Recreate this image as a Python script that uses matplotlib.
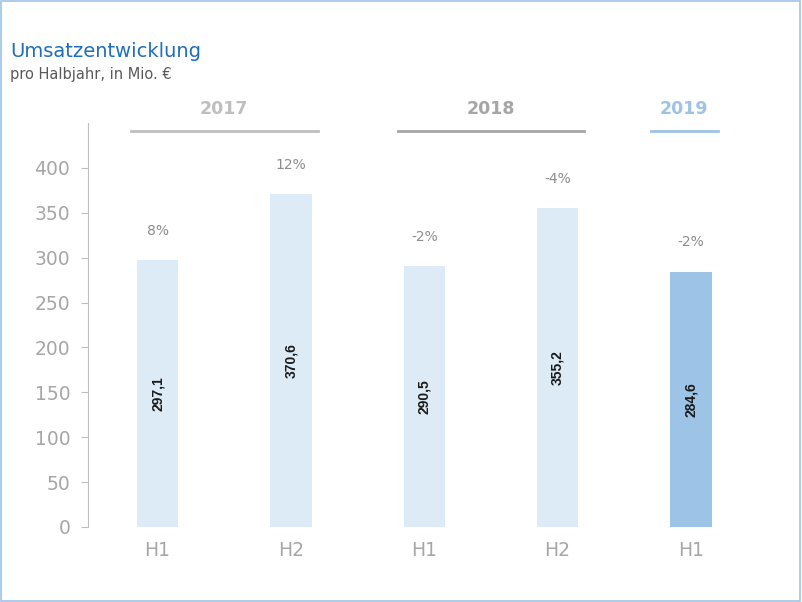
import matplotlib.pyplot as plt
from matplotlib.patches import Rectangle

halves = ["H1", "H2", "H1", "H2", "H1"]
umsatz = [297.1, 370.6, 290.5, 355.2, 284.6]
wachstum = ["8%", "12%", "-2%", "-4%", "-2%"]
jahre = ["2017", "2018", "2019"]
jahr_spans = [(-0.2, 1.2), (1.8, 3.2), (3.7, 4.2)]
jahr_farben = ["#BFBFBF", "#A6A6A6", "#9DC3E6"]
bar_farben = ["#DDEBF7", "#DDEBF7", "#DDEBF7", "#DDEBF7", "#9DC3E6"]

plt.rcParams["font.family"] = "DejaVu Sans"
fig = plt.figure(figsize=(8.02, 6.02), dpi=100)
fig.patches.append(Rectangle((0.001, 0.001), 0.997, 0.997, transform=fig.transFigure,
                             fill=False, edgecolor="#9DC3E6", lw=1.2))
fig.text(0.013, 0.905, "Umsatzentwicklung", color="#1F6FB8", fontsize=14)
fig.text(0.013, 0.868, "pro Halbjahr, in Mio. €", color="#595959", fontsize=10.5)

ax = fig.add_axes([0.11, 0.1246, 0.838, 0.671])
x = range(len(umsatz))
ax.bar(x, umsatz, width=0.31, color=bar_farben)
for i, v in enumerate(umsatz):
    ax.text(i, v / 2, f"{v:.1f}".replace(".", ","), rotation=90, ha="center",
            va="center", fontsize=10, fontweight="bold", color="#1a1a1a",
            family="Liberation Sans")
    ax.text(i, v + 33, wachstum[i], ha="center", va="center", fontsize=10, color="#8C8C8C")

for j, (a, b) in enumerate(jahr_spans):
    ax.plot([a, b], [441, 441], color=jahr_farben[j], lw=2, clip_on=False)
    ax.text((a + b) / 2, 466, jahre[j], ha="center", va="center", fontsize=12.5,
            fontweight="bold", color=jahr_farben[j])

ax.set_xlim(-0.52, 4.52)
ax.set_ylim(0, 450)
ax.set_yticks(range(0, 401, 50))
ax.set_xticks(list(x))
ax.set_xticklabels(halves)
ax.tick_params(axis="both", colors="#A6A6A6", labelsize=13.5, length=0)
ax.tick_params(axis="y", length=5, direction="out", color="#BFBFBF", pad=8)
ax.tick_params(axis="x", pad=10)
for s in ["top", "right", "bottom"]:
    ax.spines[s].set_visible(False)
ax.spines["left"].set_color("#BFBFBF")

fig.savefig("out.png", dpi=100)
